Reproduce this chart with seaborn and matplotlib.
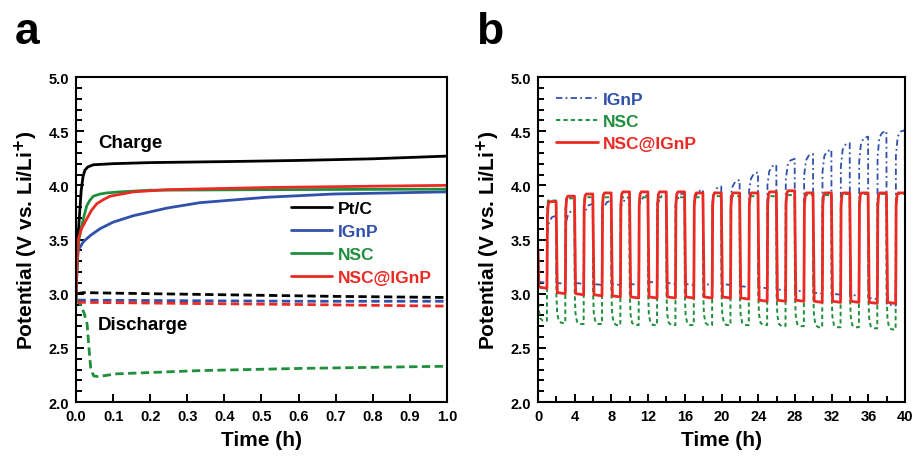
import numpy as np
import pandas as pd
import seaborn as sns
import matplotlib.pyplot as plt
from matplotlib.ticker import MultipleLocator

# ---------------- panel a : first charge / discharge (0-1 h) ----------------
ptc_chg_t = [0.0, 0.003, 0.008, 0.014, 0.019, 0.024, 0.032, 0.047, 0.1, 0.2, 0.42, 0.6, 0.8, 1.0]
ptc_chg_v = [2.97, 3.30, 3.65, 3.95, 4.08, 4.14, 4.17, 4.19, 4.20, 4.21, 4.22, 4.23, 4.245, 4.27]
ignp_chg_t = [0.0, 0.003, 0.006, 0.02, 0.04, 0.065, 0.1, 0.155, 0.245, 0.334, 0.514, 0.694, 1.0]
ignp_chg_v = [2.95, 3.25, 3.40, 3.48, 3.54, 3.60, 3.66, 3.72, 3.79, 3.84, 3.89, 3.92, 3.94]
nsc_chg_t = [0.0, 0.003, 0.008, 0.015, 0.022, 0.029, 0.037, 0.047, 0.065, 0.083, 0.12, 0.2, 0.5, 1.0]
nsc_chg_v = [2.95, 3.30, 3.50, 3.62, 3.72, 3.81, 3.86, 3.90, 3.92, 3.93, 3.94, 3.955, 3.96, 3.965]
nscig_chg_t = [0.0, 0.003, 0.006, 0.015, 0.029, 0.042, 0.056, 0.075, 0.092, 0.155, 0.245, 0.514, 0.75, 1.0]
nscig_chg_v = [2.93, 3.30, 3.50, 3.60, 3.69, 3.77, 3.83, 3.87, 3.90, 3.94, 3.96, 3.98, 3.99, 4.00]

ptc_dis_t = [0.004, 0.02, 0.1, 0.3, 0.5, 0.7, 1.0]
ptc_dis_v = [3.00, 3.01, 3.005, 2.995, 2.985, 2.975, 2.965]
ignp_dis_t = [0.004, 0.02, 0.3, 0.6, 1.0]
ignp_dis_v = [2.94, 2.94, 2.935, 2.93, 2.93]
nsc_dis_t = [0.0, 0.012, 0.022, 0.03, 0.035, 0.04, 0.048, 0.06, 0.11, 0.334, 0.604, 0.8, 1.0]
nsc_dis_v = [2.95, 2.90, 2.82, 2.72, 2.50, 2.30, 2.24, 2.235, 2.26, 2.29, 2.31, 2.32, 2.33]
nscig_dis_t = [0.004, 0.02, 0.3, 0.6, 1.0]
nscig_dis_v = [2.92, 2.92, 2.91, 2.90, 2.885]

# ---------------- panel b : 20 cycles, 1 h discharge + 1 h charge ----------------
cycle_start = list(range(0, 40, 2))
# IGnP (dash-dot)
ignp_low = [3.10, 3.09, 3.09, 3.08, 3.08, 3.08, 3.10, 3.09, 3.08, 3.08,
            3.08, 3.06, 3.05, 3.03, 3.02, 3.00, 2.99, 2.98, 2.95, 2.89]
ignp_rise = [3.55, 3.64, 3.72, 3.78, 3.80, 3.82, 3.83, 3.84, 3.85, 3.86,
             3.90, 3.95, 4.00, 4.05, 4.09, 4.12, 4.17, 4.22, 4.26, 4.27]
ignp_peak = [3.72, 3.77, 3.83, 3.86, 3.89, 3.91, 3.92, 3.93, 3.96, 3.99,
             4.05, 4.12, 4.19, 4.245, 4.29, 4.33, 4.39, 4.45, 4.50, 4.51]
ignp_end = 3.25
# NSC (dashed)
nsc_dis_top = [2.98, 3.00, 3.00, 3.00, 3.00, 3.00, 3.00, 3.00, 3.00, 3.00,
               2.99, 2.99, 2.99, 2.99, 2.99, 2.98, 2.98, 2.98, 2.98, 2.97]
nsc_low = [2.75, 2.73, 2.72, 2.72, 2.71, 2.71, 2.71, 2.71, 2.71, 2.71,
           2.71, 2.71, 2.71, 2.70, 2.70, 2.69, 2.69, 2.69, 2.68, 2.67]
nsc_top = [3.86, 3.88, 3.89, 3.89, 3.89, 3.89, 3.89, 3.89, 3.89, 3.90,
           3.90, 3.90, 3.90, 3.91, 3.91, 3.91, 3.92, 3.92, 3.92, 3.92]
# NSC@IGnP (solid)
nscig_low = [3.05, 3.00, 2.99, 2.98, 2.97, 2.96, 2.96, 2.96, 2.96, 2.96,
             2.96, 2.95, 2.93, 2.93, 2.93, 2.92, 2.92, 2.92, 2.91, 2.91]
nscig_top = [3.85, 3.90, 3.92, 3.93, 3.94, 3.94, 3.94, 3.94, 3.93, 3.93,
             3.93, 3.93, 3.94, 3.95, 3.93, 3.93, 3.93, 3.93, 3.93, 3.93]
nscig_start = 3.40


def ignp_curve():
    t, v = [], []
    for k, t0 in enumerate(cycle_start):
        t += [t0, t0 + 0.98, t0 + 1.0, t0 + 1.0, t0 + 1.2, t0 + 1.5, t0 + 1.97]
        v += [ignp_low[k] + 0.01, ignp_low[k], ignp_low[k], ignp_rise[k],
              ignp_peak[k] - 0.06, ignp_peak[k] - 0.015, ignp_peak[k]]
    t.append(40.0)
    v.append(ignp_end)
    return t, v


def nsc_curve():
    t, v = [], []
    for k, t0 in enumerate(cycle_start):
        t += [t0, t0 + 0.08, t0 + 0.25, t0 + 0.55, t0 + 0.97,
              t0 + 1.0, t0 + 1.08, t0 + 1.97]
        v += [nsc_dis_top[k], nsc_low[k] + 0.1, nsc_low[k] + 0.02, nsc_low[k], nsc_low[k],
              nsc_top[k] - 0.08, nsc_top[k], nsc_top[k]]
    return t, v


def nscig_curve():
    t, v = [0.0], [nscig_start]
    for k, t0 in enumerate(cycle_start):
        t += [t0 + 0.1, t0 + 0.97, t0 + 1.0, t0 + 1.03, t0 + 1.12, t0 + 1.25, t0 + 1.97]
        v += [nscig_low[k] + 0.01, nscig_low[k], nscig_low[k] + 0.3,
              nscig_top[k] - 0.12, nscig_top[k] - 0.02, nscig_top[k], nscig_top[k]]
    return t, v


blue = "#3150ab"
green = "#1f8f3c"
red = "#ec2a24"

sns.set_theme(style="ticks")
plt.rcParams['font.family'] = ['Liberation Sans', 'DejaVu Sans']
plt.rcParams['font.weight'] = 'bold'
plt.rcParams['axes.labelweight'] = 'bold'
plt.rcParams['text.color'] = 'black'
plt.rcParams['axes.labelcolor'] = 'black'
plt.rcParams['xtick.color'] = 'black'
plt.rcParams['ytick.color'] = 'black'

fig = plt.figure(figsize=(9.13, 4.6), dpi=100)
ax1 = fig.add_axes([0.0832, 0.1239, 0.4064, 0.7065])
ax2 = fig.add_axes([0.5893, 0.1239, 0.4020, 0.7065])

lw = 2.0
dash_a = (0, (3.0, 1.6))
for t, v, c, lab in [(ptc_chg_t, ptc_chg_v, "black", "Pt/C"),
                     (ignp_chg_t, ignp_chg_v, blue, "IGnP"),
                     (nsc_chg_t, nsc_chg_v, green, "NSC"),
                     (nscig_chg_t, nscig_chg_v, red, "NSC@IGnP")]:
    sns.lineplot(x=t, y=v, ax=ax1, color=c, lw=lw, label=lab, estimator=None, sort=False)
for t, v, c in [(ptc_dis_t, ptc_dis_v, "black"), (ignp_dis_t, ignp_dis_v, blue),
                (nsc_dis_t, nsc_dis_v, green), (nscig_dis_t, nscig_dis_v, red)]:
    sns.lineplot(x=t, y=v, ax=ax1, color=c, lw=lw, linestyle=dash_a, estimator=None, sort=False)

ax1.text(0.06, 4.4, "Charge", fontsize=13.5, fontweight='bold', va='center')
ax1.text(0.06, 2.72, "Discharge", fontsize=13.5, fontweight='bold', va='center')

tb, vb = ignp_curve()
sns.lineplot(x=tb, y=vb, ax=ax2, color=blue, lw=1.3, linestyle=(0, (3.5, 1.8, 1.0, 1.8)),
             label="IGnP", estimator=None, sort=False)
tg, vg = nsc_curve()
sns.lineplot(x=tg, y=vg, ax=ax2, color=green, lw=1.4, linestyle=(0, (2.2, 1.6)),
             label="NSC", estimator=None, sort=False)
tr, vr = nscig_curve()
sns.lineplot(x=tr, y=vr, ax=ax2, color=red, lw=2.0, label="NSC@IGnP",
             estimator=None, sort=False)

for ax in (ax1, ax2):
    ax.set_ylim(2.0, 5.0)
    ax.yaxis.set_major_locator(MultipleLocator(0.5))
    ax.yaxis.set_minor_locator(MultipleLocator(0.1))
    ax.tick_params(which='both', direction='in', top=False, right=False,
                   labelsize=10.5, width=1.4, pad=5, colors='black')
    ax.tick_params(which='major', length=6)
    ax.tick_params(which='minor', length=4)
    for s in ax.spines.values():
        s.set_linewidth(1.5)
        s.set_color("black")
    ax.set_xlabel("Time (h)", fontsize=15, fontweight='bold', labelpad=5)
    ax.set_ylabel("Potential (V vs. Li/Li$^\\mathbf{+}$)", fontsize=15, fontweight='bold', labelpad=6)

ax1.set_xlim(0, 1.0)
ax1.xaxis.set_major_locator(MultipleLocator(0.1))
ax1.xaxis.set_major_formatter(plt.FormatStrFormatter('%.1f'))
ax1.yaxis.set_major_formatter(plt.FormatStrFormatter('%.1f'))
ax2.set_xlim(0, 40)
ax2.xaxis.set_major_locator(MultipleLocator(4))
ax2.xaxis.set_minor_locator(MultipleLocator(2))
ax2.yaxis.set_major_formatter(plt.FormatStrFormatter('%.1f'))
for ax in (ax1, ax2):
    for lbl in ax.get_xticklabels() + ax.get_yticklabels():
        lbl.set_fontweight('bold')

leg1 = ax1.legend(loc='upper left', bbox_to_anchor=(0.56, 0.64), frameon=False,
                  fontsize=12.5, handlelength=2.4, handletextpad=0.3, labelspacing=0.45,
                  borderaxespad=0)
for txt, line in zip(leg1.get_texts(), leg1.get_lines()):
    txt.set_color(line.get_color())
    txt.set_fontweight('bold')

leg2 = ax2.legend(loc='upper left', bbox_to_anchor=(0.03, 0.975), frameon=False,
                  fontsize=12.5, handlelength=2.4, handletextpad=0.3, labelspacing=0.4,
                  borderaxespad=0)
for txt, line in zip(leg2.get_texts(), leg2.get_lines()):
    txt.set_color(line.get_color())
    txt.set_fontweight('bold')

fig.text(0.016, 0.905, "a", fontsize=32, fontweight='bold')
fig.text(0.521, 0.905, "b", fontsize=32, fontweight='bold')

fig.savefig("out.png", dpi=100)
